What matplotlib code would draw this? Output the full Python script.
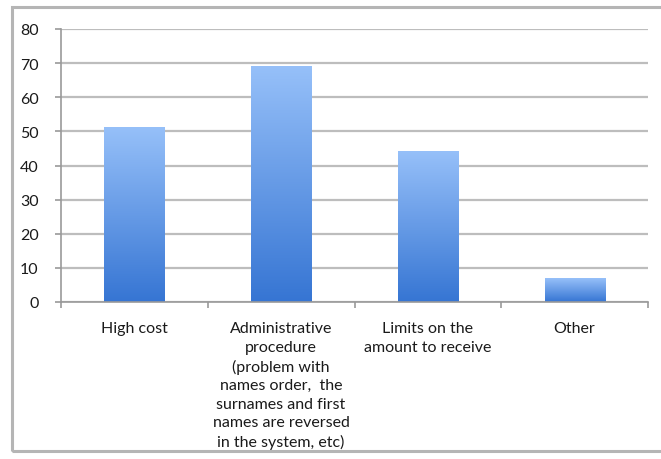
import matplotlib
matplotlib.use('Agg')
import matplotlib.pyplot as plt
from matplotlib.colors import LinearSegmentedColormap
from matplotlib.patches import Rectangle
import numpy as np

plt.rcParams['font.family'] = ['Lato', 'DejaVu Sans']

categories = ['High cost',
              'Administrative\nprocedure\n(problem with\nnames order,  the\nsurnames and first\nnames are reversed\nin the system, etc)',
              'Limits on the\namount to receive',
              'Other']
values = [51, 69, 44, 7]
yticks = [0, 10, 20, 30, 40, 50, 60, 70, 80]

fig = plt.figure(figsize=(6.61, 4.60), dpi=100)
# outer chart frame
fig.patches.append(Rectangle((12 / 661, 8 / 460), 1.0, 444 / 460, transform=fig.transFigure,
                             fill=False, edgecolor='#b5b5b5', linewidth=2.2))
ax = fig.add_axes([61 / 661, 1 - 303 / 460, 587 / 661, 273 / 460])

cmap = LinearSegmentedColormap.from_list('bar', ['#3675d3', '#96c0f9'])
grad = np.linspace(0, 1, 256).reshape(-1, 1)
width = 0.41
x = np.arange(len(categories))
for xi, v in zip(x, values):
    ax.imshow(grad, cmap=cmap, origin='lower', aspect='auto',
              extent=(xi - width / 2, xi + width / 2, 0, v), zorder=2)

ax.set_xlim(-0.5, len(categories) - 0.5)
ax.set_ylim(0, 80)
ax.set_yticks(yticks)
ax.set_yticklabels([str(t) for t in yticks])
ax.yaxis.grid(True, color='#bdbdbd', linewidth=1.6, zorder=0)
ax.set_axisbelow(True)

ax.set_xticks(x)
ax.set_xticklabels(categories, fontsize=11.5, color='#1a1a1a', linespacing=1.4, va='top')
ax.tick_params(axis='x', length=0, pad=14)
ax.set_xticks(np.arange(-0.5, len(categories)), minor=True)
ax.tick_params(axis='x', which='minor', length=4, color='#999999', width=1.2)
ax.tick_params(axis='y', length=4, color='#999999', width=1.2, labelsize=11.5, labelcolor='#1a1a1a', pad=12)

for s in ['top', 'right']:
    ax.spines[s].set_visible(False)
ax.spines['left'].set_color('#999999')
ax.spines['bottom'].set_color('#999999')
ax.spines['left'].set_linewidth(1.2)
ax.spines['bottom'].set_linewidth(1.2)

fig.savefig('out.png', dpi=100)
